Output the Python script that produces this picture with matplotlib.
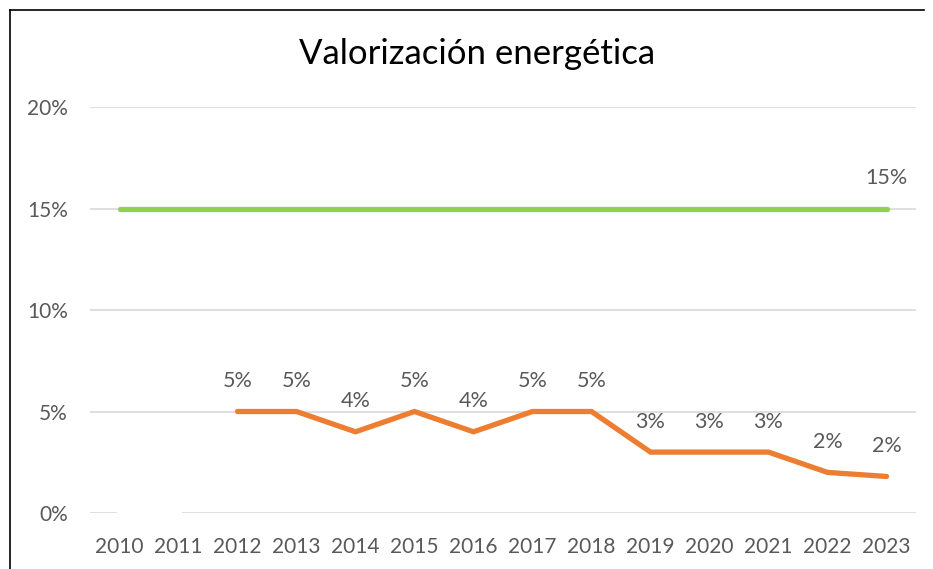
import matplotlib
matplotlib.use("Agg")
import matplotlib.pyplot as plt
from matplotlib.lines import Line2D

# ==============================================
# Valorización energética - line chart
# ==============================================

years = ["2010", "2011", "2012", "2013", "2014", "2015", "2016",
         "2017", "2018", "2019", "2020", "2021", "2022", "2023"]
actual = [None, None, 5, 5, 4, 5, 4, 5, 5, 3, 3, 3, 2, 1.8]
actual_labels = ["", "", "5%", "5%", "4%", "5%", "4%", "5%", "5%",
                 "3%", "3%", "3%", "2%", "2%"]
target = [15] * 14
hidden_zero = [0, 0]  # empty years drawn as white at 0
yticks = [0, 5, 10, 15, 20]

ORANGE = "#ED7D31"
GREEN = "#92D050"
GRID = "#D9D9D9"
TEXT = "#595959"

plt.rcParams["font.family"] = ["Lato", "DejaVu Sans"]

W, H = 933, 569
fig = plt.figure(figsize=(W / 100, H / 100), dpi=100)

# chart frame (only left and top edges are visible in the crop)
fig.add_artist(Line2D([9.5 / W, 9.5 / W], [0, 1 - 9.5 / H], transform=fig.transFigure,
                      color="black", lw=1.2))
fig.add_artist(Line2D([9.5 / W, 924 / W], [1 - 9.5 / H, 1 - 9.5 / H],
                      transform=fig.transFigure, color="black", lw=1.2))

ax = fig.add_axes([90 / W, (H - 513) / H, (916 - 90) / W, (513 - 107) / H])

x = list(range(len(years)))
ax.set_xlim(-0.5, len(years) - 0.5)
ax.set_ylim(0, 20)

for y in yticks:
    ax.axhline(y, color=GRID, lw=1.2, zorder=0)

ax.plot(x[:2], hidden_zero, color="white", lw=4.5, solid_capstyle="round", zorder=1)
ax.plot(x, target, color=GREEN, lw=3.8, solid_capstyle="round", zorder=2)
ax_x = [i for i, v in zip(x, actual) if v is not None]
ax_y = [v for v in actual if v is not None]
ax.plot(ax_x, ax_y, color=ORANGE, lw=3.8, solid_capstyle="round",
        solid_joinstyle="miter", zorder=3)

for i, v, lab in zip(x, actual, actual_labels):
    if v is not None:
        ax.annotate(lab, (i, v), xytext=(0, 22), textcoords="offset points",
                    ha="center", va="center", fontsize=15.5, color=TEXT)
ax.annotate("15%", (x[-1], target[-1]), xytext=(0, 22), textcoords="offset points",
            ha="center", va="center", fontsize=15.5, color=TEXT)

ax.set_xticks(x)
ax.set_xticklabels(years, fontsize=15, color=TEXT)
ax.set_yticks(yticks)
ax.set_yticklabels([f"{t}%" for t in yticks], fontsize=15, color=TEXT)
ax.tick_params(length=0)
ax.tick_params(axis="x", pad=17)
ax.tick_params(axis="y", pad=16)
for s in ax.spines.values():
    s.set_visible(False)

fig.text(477 / W, 1 - 54 / H, "Valorización energética", ha="center", va="center",
         fontsize=25, color="black")

plt.savefig("out.png", dpi=100)
plt.close()
